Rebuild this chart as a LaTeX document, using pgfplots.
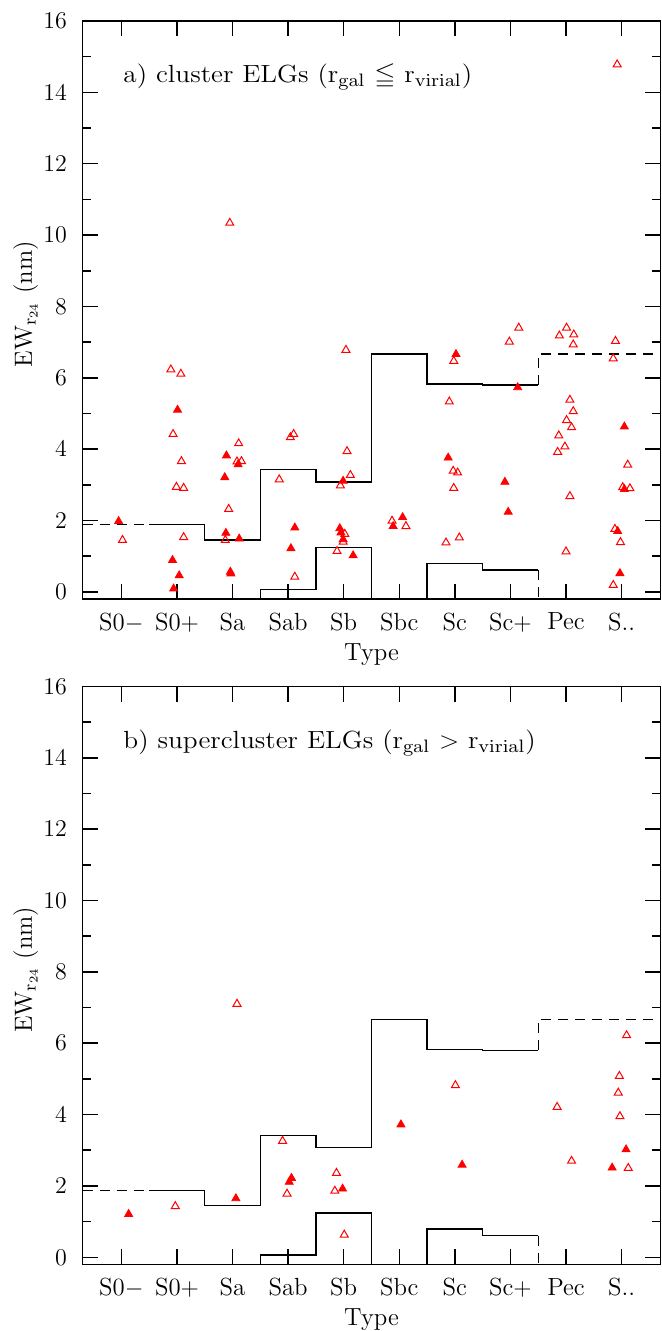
\documentclass[border=0pt]{standalone}
\usepackage{amssymb}
\usepackage{graphicx}
\usepackage{pgfplots}
\pgfplotsset{compat=1.18}
\pgfplotsset{
  myaxis/.style={
    scale only axis, width=289pt, height=289pt,
    xmin=-0.7, xmax=9.7, ymin=-0.2, ymax=16,
    xtick={0,1,2,3,4,5,6,7,8,9},
    xticklabels={S0$-$,S0$+$,Sa,Sab,Sb,Sbc,Sc,Sc$+$,Pec,S..},
    ytick={0,2,4,6,8,10,12,14,16},
    minor ytick={1,3,5,7,9,11,13,15},
    axis on top,
    tick align=inside,
    major tick length=7.5pt, minor tick length=4pt,
    every major tick/.style={draw=black, line width=0.75pt},
    every minor tick/.style={draw=black, line width=0.75pt},
    axis line style={line width=0.7pt},
    tick label style={font=\fontsize{12.4}{15}\selectfont},
    xticklabel style={yshift=-2.5pt},
    yticklabel style={xshift=-3.5pt},
    label style={font=\fontsize{12.4}{15}\selectfont},
    xlabel={Type},
    xlabel style={at={(axis description cs:0.5,0)}, anchor=base, yshift=-30.5pt},
    ylabel={EW$_{\mathrm{r}_{24}}$ (nm)},
    ylabel style={at={(axis description cs:-0.0874,0.51)}, anchor=base},
    clip=false,
  },
  stepline/.style={black, line width=0.65pt, no markers},
  dashline/.style={black, line width=0.65pt, no markers, dash pattern=on 5pt off 3.5pt},
  filledtri/.style={only marks, mark=triangle*, mark size=2.3pt, mark options={fill=red, draw=red, line width=0.4pt}},
  opentri/.style={only marks, mark=triangle, mark size=2.3pt, mark options={draw=red, line width=0.5pt}},
}
\newcommand{\majorticks}{%
  \pgfplotsinvokeforeach{0,1,2,3,4,5,6,7,8,9}{%
    \draw[draw=black, line width=0.75pt] (axis cs:##1,-0.2) -- ++(0pt,7.7pt);
    \draw[draw=black, line width=0.75pt] (axis cs:##1,16) -- ++(0pt,-7.7pt);
  }%
  \pgfplotsinvokeforeach{0,2,4,6,8,10,12,14,16}{%
    \draw[draw=black, line width=0.75pt] (axis cs:-0.7,##1) -- ++(7.5pt,0pt);
    \draw[draw=black, line width=0.75pt] (axis cs:9.7,##1) -- ++(-7.5pt,0pt);
  }%
}
\begin{document}
\fontsize{12.4}{15}\selectfont
\begin{tikzpicture}
\useasboundingbox (0,0) rectangle (330.5pt,-665.5pt);
% ---------------- panel a ----------------
\begin{axis}[myaxis, at={(41.25pt,-10.5pt)}, anchor=north west]
\addplot[dashline] coordinates {(-0.7,1.88) (0.5,1.88)};
\addplot[stepline] coordinates {(0.5,1.88) (1.5,1.88) (1.5,1.45) (2.5,1.45) (2.5,3.42) (3.5,3.42) (3.5,3.08) (4.5,3.08) (4.5,6.67) (5.5,6.67) (5.5,5.83) (6.5,5.83) (6.5,5.80) (7.5,5.80)};
\addplot[dashline] coordinates {(7.5,5.80) (7.5,6.67) (9.7,6.67)};
\addplot[stepline] coordinates {(2.5,-0.2) (2.5,0.06) (3.5,0.06) (3.5,1.24) (4.5,1.24) (4.5,-0.2)};
\addplot[stepline] coordinates {(5.5,-0.2) (5.5,0.79) (6.5,0.79) (6.5,0.61) (7.5,0.61)};
\addplot[dashline] coordinates {(7.5,0.61) (7.5,-0.2)};
\addplot[filledtri] coordinates {
(-0.05,1.98)
(1.01,5.10) (0.92,0.89) (1.04,0.46) (0.94,0.09)
(1.89,3.82) (2.10,3.57) (1.86,3.21) (1.88,1.65) (2.12,1.49) (1.96,0.56) (1.97,0.51)
(3.12,1.80) (3.05,1.22)
(3.99,3.11) (3.93,1.78) (3.95,1.66) (3.99,1.47) (4.17,1.02)
(4.89,1.84) (5.06,2.09)
(6.02,6.66) (5.88,3.76)
(7.13,5.73) (6.90,3.08) (6.96,2.24)
(9.05,4.63) (9.05,2.88) (8.93,1.70) (8.97,0.52)
};
\addplot[opentri] coordinates {
(0.02,1.45)
(0.89,6.23) (1.07,6.11) (0.93,4.42) (1.08,3.66) (0.99,2.94) (1.12,2.91) (1.12,1.53)
(1.95,10.34) (2.11,4.16) (2.08,3.65) (2.16,3.66) (1.93,2.32) (1.87,1.45)
(3.04,4.33) (3.10,4.42) (2.84,3.15) (3.12,0.42)
(4.04,6.78) (4.06,3.94) (4.12,3.27) (3.94,2.98) (4.02,1.62) (3.99,1.40) (3.88,1.14)
(4.87,1.99) (5.12,1.84)
(5.98,6.47) (5.90,5.33) (5.97,3.39) (6.05,3.34) (5.98,2.91) (6.08,1.52) (5.84,1.38)
(6.98,7.01) (7.15,7.40)
(7.88,7.18) (8.01,7.40) (8.14,7.21) (8.13,6.93) (8.07,5.38) (8.13,5.06) (8.01,4.81) (8.10,4.61) (7.87,4.38) (7.98,4.07) (7.85,3.92) (8.07,2.68) (8.00,1.13)
(8.92,14.78) (8.89,7.03) (8.85,6.54) (9.11,3.56) (9.02,2.93) (9.15,2.90) (8.88,1.76) (8.98,1.39) (8.85,0.19)
};
\majorticks
\node[anchor=base west, inner sep=0pt, font=\fontsize{12.4}{15}\selectfont] at (axis cs:0.03,14.27) {\scalebox{1.1}[1.0]{a) cluster ELGs (r$_{\mathrm{gal}}$ $\leqq$ r$_{\mathrm{virial}}$)}};
\end{axis}
% ---------------- panel b ----------------
\begin{axis}[myaxis, at={(41.25pt,-343.2pt)}, anchor=north west]
\addplot[dashline] coordinates {(-0.7,1.88) (0.5,1.88)};
\addplot[stepline] coordinates {(0.5,1.88) (1.5,1.88) (1.5,1.45) (2.5,1.45) (2.5,3.42) (3.5,3.42) (3.5,3.08) (4.5,3.08) (4.5,6.67) (5.5,6.67) (5.5,5.83) (6.5,5.83) (6.5,5.80) (7.5,5.80)};
\addplot[dashline] coordinates {(7.5,5.80) (7.5,6.67) (9.7,6.67)};
\addplot[stepline] coordinates {(2.5,-0.2) (2.5,0.06) (3.5,0.06) (3.5,1.24) (4.5,1.24) (4.5,-0.2)};
\addplot[stepline] coordinates {(5.5,-0.2) (5.5,0.79) (6.5,0.79) (6.5,0.61) (7.5,0.61)};
\addplot[dashline] coordinates {(7.5,0.61) (7.5,-0.2)};
\addplot[filledtri] coordinates {
(0.13,1.21) (2.06,1.65) (3.06,2.22) (3.02,2.11) (3.98,1.92) (5.03,3.72) (6.13,2.59) (9.08,3.02) (8.83,2.51)
};
\addplot[opentri] coordinates {
(0.97,1.43) (2.08,7.10) (2.90,3.26) (2.98,1.78) (3.87,2.36) (3.84,1.86) (4.01,0.63) (6.01,4.82) (7.84,4.21) (8.10,2.70) (9.09,6.22) (8.96,5.08) (8.94,4.61) (8.97,3.95) (9.12,2.50)
};
\majorticks
\node[anchor=base west, inner sep=0pt, font=\fontsize{12.4}{15}\selectfont] at (axis cs:0.03,14.27) {\scalebox{1.1}[1.0]{b) supercluster ELGs (r$_{\mathrm{gal}}$ $>$ r$_{\mathrm{virial}}$)}};
\end{axis}
\end{tikzpicture}
\end{document}
